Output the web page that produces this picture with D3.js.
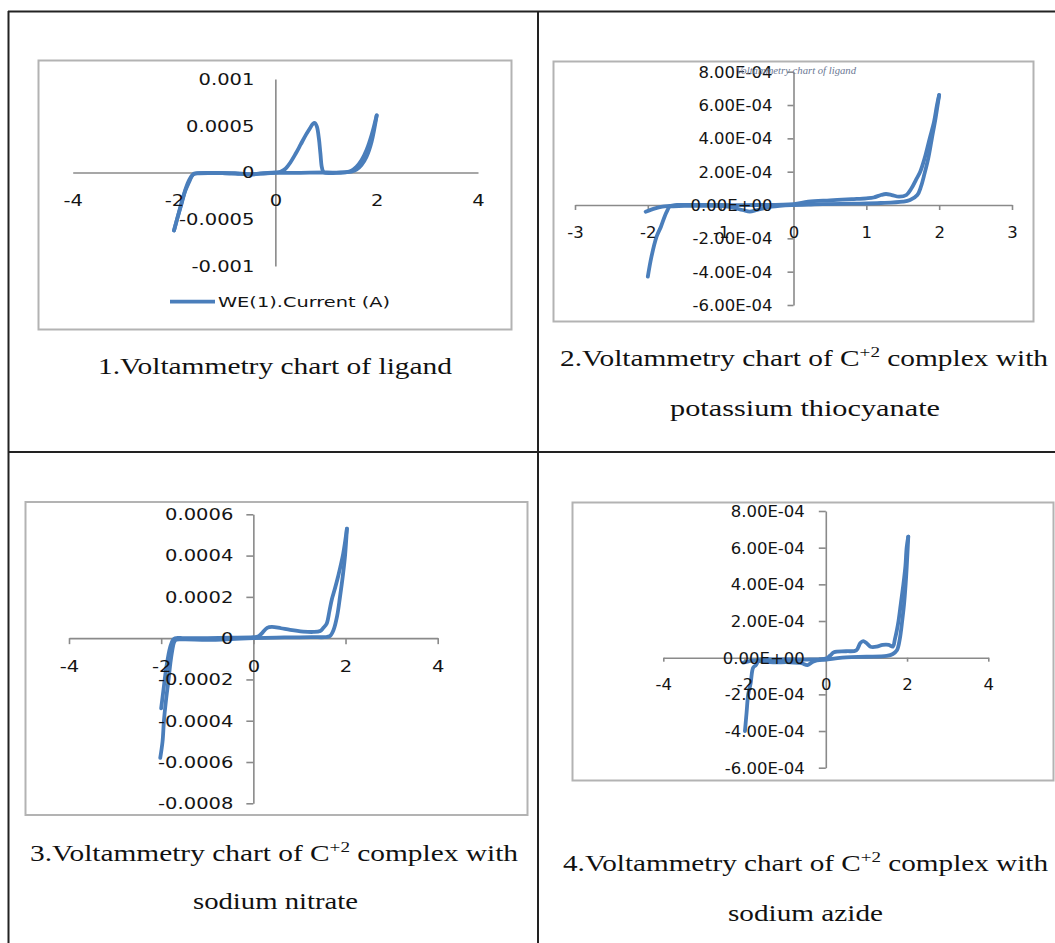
<!DOCTYPE html>
<html><head><meta charset="utf-8">
<script src="https://cdn.jsdelivr.net/npm/d3@7"></script>
<style>body{margin:0;background:#fff;} svg{display:block}</style>
</head><body>
<svg id="c" width="1055" height="943"></svg>
<script>
// ---------------- DATA ----------------
// Chart 1: ligand
const ligandFwdV = [-2.0,-1.94,-1.87,-1.78,-1.7,-1.65,-1.6,-1.5,-1.2,-0.8,-0.6,-0.45,-0.3,0,0.1,0.2,0.3,0.4,0.5,0.6,0.68,0.74,0.78,0.82,0.86,0.89,0.92,0.96,1.2,1.4,1.5,1.6,1.7,1.8,1.9,2.0];
const ligandFwdI = [-0.00062,-0.0005,-0.00037,-0.0002,-0.0001,-0.00004,-0.00001,-0.000006,-0.000005,-0.000008,-0.000015,-0.00002,-0.00001,0,0.000008,0.00004,0.00011,0.0002,0.0003,0.0004,0.00047,0.00052,0.00053,0.00049,0.00036,0.0002,0.00005,0,-0.000003,0.000005,0.00002,0.00006,0.00013,0.00024,0.0004,0.00061];
const ligandRevV = [2.0,1.9,1.8,1.7,1.6,1.5,1.3,1.0,0.5,0,-0.5,-0.7,-1.0,-1.5,-1.62,-1.7,-1.78,-1.86,-1.93,-2.0];
const ligandRevI = [0.00061,0.00033,0.00017,0.00008,0.00003,0.00001,0,0,-0.000003,-0.000005,-0.00002,-0.000015,-0.000008,-0.000008,-0.00002,-0.00008,-0.00019,-0.00034,-0.00048,-0.00062];
// Chart 2: C+2 complex with potassium thiocyanate
const kscnFwdV = [-2.03,-1.9,-1.8,-1.7,-1.6,-1.3,-1.0,-0.5,0,0.2,0.5,0.8,1.0,1.1,1.2,1.27,1.35,1.45,1.55,1.62,1.68,1.74,1.8,1.87,1.93,1.97,2.0];
const kscnFwdI = [-0.00004,-0.00002,-0.00001,-0.000005,0,0,0,0,0.000005,0.00002,0.000028,0.000035,0.00004,0.000045,0.00006,0.000066,0.00006,0.00005,0.00006,0.0001,0.00015,0.0002,0.00028,0.0004,0.0005,0.0006,0.00066];
const kscnRevV = [2.0,1.95,1.9,1.85,1.8,1.75,1.7,1.6,1.5,1.2,0.8,0.4,0.2,0,-0.3,-0.5,-0.6,-0.7,-0.9,-1.2,-1.5,-1.65,-1.7,-1.74,-1.77,-1.82,-1.88,-1.95,-2.0];
const kscnRevI = [0.00066,0.00052,0.0004,0.00028,0.00019,0.00011,0.00006,0.00003,0.00002,0.000012,0.000008,0.000005,0.000002,0,-0.00001,-0.00003,-0.00004,-0.00003,-0.00001,-0.000005,-0.000005,-0.000008,-0.00001,-0.00004,-0.00007,-0.00013,-0.00019,-0.00031,-0.00043];
// Chart 3: C+2 complex with sodium nitrate
const nitrateFwdV = [-2.0,-1.95,-1.9,-1.85,-1.8,-1.75,-1.7,-1.5,-1.0,-0.5,0,0.1,0.17,0.3,0.4,0.6,0.8,1.08,1.3,1.45,1.52,1.59,1.65,1.7,1.77,1.84,1.95,2.03];
const nitrateFwdI = [-0.00034,-0.00025,-0.00016,-0.00009,-0.00004,-0.00001,0,0,0,0.000002,0.000005,0.000008,0.00002,0.00005,0.000055,0.000048,0.00004,0.000032,0.00003,0.000035,0.00005,0.00007,0.00013,0.000185,0.00024,0.0003,0.00041,0.00053];
const nitrateRevV = [2.03,1.99,1.94,1.88,1.82,1.74,1.66,1.55,1.3,1.0,0.5,0,-0.5,-1.0,-1.5,-1.68,-1.72,-1.76,-1.8,-1.84,-1.9,-1.94,-1.97,-2.02];
const nitrateRevI = [0.00053,0.0004,0.0003,0.0002,0.00011,0.00004,0.00001,0.000005,0.000005,0.000004,0.000003,0,-0.000005,-0.000008,-0.000006,-0.000008,-0.00002,-0.00006,-0.00012,-0.0002,-0.00031,-0.0004,-0.0005,-0.00058];
// Chart 4: C+2 complex with sodium azide
const azideFwdV = [-2.03,-1.9,-1.75,-1.6,-1.2,-0.8,-0.4,0,0.1,0.2,0.5,0.75,0.85,0.92,1.0,1.1,1.25,1.4,1.55,1.65,1.7,1.75,1.79,1.85,1.91,1.96,1.99,2.03];
const azideFwdI = [-0.000027,-0.00002,-0.000015,-0.00001,-0.00001,-0.00001,-0.00001,-0.000005,0.00001,0.00003,0.000035,0.00004,0.00008,0.00009,0.00008,0.00006,0.00006,0.00007,0.00007,0.00006,0.0001,0.00015,0.0002,0.0003,0.0004,0.0005,0.0006,0.00066];
const azideRevV = [2.03,1.98,1.93,1.88,1.82,1.75,1.65,1.5,1.0,0.5,0,-0.3,-0.45,-0.6,-0.9,-1.3,-1.6,-1.66,-1.72,-1.79,-1.85,-1.91,-1.95,-1.99];
const azideRevI = [0.00066,0.00045,0.0003,0.0002,0.0001,0.00004,0.00002,0.00001,0.000005,0.000002,-0.00001,-0.00002,-0.00004,-0.00003,-0.000025,-0.000025,-0.00002,-0.00002,-0.00004,-0.000055,-0.00014,-0.0002,-0.0003,-0.0004];

// Tick values
const xTicks4 = [-4,-2,0,2,4];
const xTicks3 = [-3,-2,-1,0,1,2,3];
const yTicksLigand = [-0.001,-0.0005,0,0.0005,0.001];
const yTicksSci = [-0.0006,-0.0004,-0.0002,0,0.0002,0.0004,0.0006,0.0008];
const yTicksNitrate = [-0.0008,-0.0006,-0.0004,-0.0002,0,0.0002,0.0004,0.0006];

// Texts
const legendLabel = "WE(1).Current (A)";
const ghostTitle = "Voltammetry chart of ligand";
const captionLines = [
  ["1.Voltammetry chart of ligand"],
  ["2.Voltammetry chart of C", "+2", " complex with"],
  ["potassium thiocyanate"],
  ["3.Voltammetry chart of C", "+2", " complex with"],
  ["sodium nitrate"],
  ["4.Voltammetry chart of C", "+2", " complex with"],
  ["sodium azide"]
];

// ---------------- LAYOUT / STYLE ----------------
const BLUE = "#4a7ebb";
const svg = d3.select("#c");
const plainFmt = d => d === 0 ? "0" : String(d);
function sciFmt(v){
  if (v === 0) return "0.00E+00";
  const e = Math.floor(Math.log10(Math.abs(v)) + 1e-9);
  const m = v / Math.pow(10, e);
  return m.toFixed(2) + "E" + (e < 0 ? "-" : "+") + String(Math.abs(e)).padStart(2, "0");
}
function stretch(sel, k){
  sel.each(function(){
    const w = this.getComputedTextLength();
    this.setAttribute("textLength", w * k);
    this.setAttribute("lengthAdjust", "spacingAndGlyphs");
  });
}

// table grid
const grid = svg.append("g").attr("stroke", "#222").attr("stroke-width", 2);
grid.append("line").attr("x1", 8).attr("x2", 1055).attr("y1", 11.5).attr("y2", 11.5);
grid.append("line").attr("x1", 8.5).attr("x2", 8.5).attr("y1", 11).attr("y2", 943);
grid.append("line").attr("x1", 538).attr("x2", 538).attr("y1", 11).attr("y2", 943);
grid.append("line").attr("x1", 8).attr("x2", 1055).attr("y1", 452).attr("y2", 452);

const charts = [
  { frame:[38.5,60.5,473,269], xDomain:[-4,4], xRange:[72.7,478], yDomain:[-0.001,0.001], yRange:[266,79],
    xTicks:xTicks4, yTicks:yTicksLigand, yFmt:plainFmt, xTick:0, yTick:0, xLab:28.5, yGap:21, k:1.3,
    series:[[ligandFwdV,ligandFwdI],[ligandRevV,ligandRevI]] },
  { frame:[553.5,61.5,480,260], xDomain:[-3,3], xRange:[575,1012], yDomain:[-0.0006,0.0008], yRange:[305,71.7],
    xTicks:xTicks3, yTicks:yTicksSci, yFmt:sciFmt, xTick:5, yTick:6, xLab:28, yGap:21, k:1.1,
    series:[[kscnFwdV,kscnFwdI],[kscnRevV,kscnRevI]] },
  { frame:[25.5,502,502,313], xDomain:[-4,4], xRange:[69,437.7], yDomain:[-0.0008,0.0006], yRange:[803.3,514.3],
    xTicks:xTicks4, yTicks:yTicksNitrate, yFmt:plainFmt, xTick:6, yTick:7, xLab:28.4, yGap:20, k:1.3,
    series:[[nitrateFwdV,nitrateFwdI],[nitrateRevV,nitrateRevI]] },
  { frame:[572.5,502.5,481,278], xDomain:[-4,4], xRange:[663.3,988.3], yDomain:[-0.0006,0.0008], yRange:[767.7,511],
    xTicks:xTicks4, yTicks:yTicksSci, yFmt:sciFmt, xTick:4, yTick:7, xLab:26.7, yGap:21, k:1.1,
    series:[[azideFwdV,azideFwdI],[azideRevV,azideRevI]] }
];

charts.forEach((c, ci) => {
  const g = svg.append("g");
  g.append("rect").attr("x", c.frame[0]).attr("y", c.frame[1]).attr("width", c.frame[2]).attr("height", c.frame[3])
    .attr("fill", "#fff").attr("stroke", "#b3b3b3").attr("stroke-width", 2);
  const x = d3.scaleLinear().domain(c.xDomain).range(c.xRange);
  const y = d3.scaleLinear().domain(c.yDomain).range(c.yRange);
  const x0 = x(0), y0 = y(0);
  // axis lines + tick marks
  const xa = g.append("g").attr("transform", `translate(0,${y0})`)
    .call(d3.axisBottom(x).tickValues(c.xTicks).tickSize(c.xTick).tickSizeOuter(0));
  const ya = g.append("g").attr("transform", `translate(${x0},0)`)
    .call(d3.axisLeft(y).tickValues(c.yTicks).tickSize(c.yTick).tickSizeOuter(0));
  [xa, ya].forEach(a => {
    a.select(".domain").attr("stroke", "#8a8a8a").attr("stroke-width", 1.6);
    a.selectAll(".tick line").attr("stroke", "#8a8a8a").attr("stroke-width", 1.6);
    a.selectAll("text").remove();
  });
  // series
  const line = d3.line().x(d => x(d[0])).y(d => y(d[1])).curve(d3.curveCatmullRom.alpha(0.5));
  c.series.forEach(([vs, is]) => {
    g.append("path").datum(vs.map((v, i) => [v, is[i]])).attr("d", line)
      .attr("fill", "none").attr("stroke", BLUE).attr("stroke-width", 3.8)
      .attr("stroke-linejoin", "round").attr("stroke-linecap", "round");
  });
  // tick labels (on top)
  const xl = g.append("g").attr("transform", `translate(0,${y0})`)
    .call(d3.axisBottom(x).tickValues(c.xTicks).tickFormat(d => String(d)).tickSize(0));
  const yl = g.append("g").attr("transform", `translate(${x0},0)`)
    .call(d3.axisLeft(y).tickValues(c.yTicks).tickFormat(c.yFmt).tickSize(0));
  [xl, yl].forEach(a => {
    a.select(".domain").remove();
    a.attr("font-family", "DejaVu Sans").attr("font-size", 15);
    a.selectAll("text").attr("fill", "#141414");
  });
  xl.selectAll("text").attr("y", c.xLab).attr("dy", "0.36em");
  yl.selectAll("text").attr("x", -c.yGap).attr("dy", "0.36em");
  stretch(xl.selectAll("text"), c.k);
  stretch(yl.selectAll("text"), c.k);

  if (ci === 0) {
    // legend
    g.append("line").attr("x1", 170).attr("x2", 215).attr("y1", 301.7).attr("y2", 301.7)
      .attr("stroke", BLUE).attr("stroke-width", 3.8);
    const lt = g.append("text").attr("x", 218).attr("y", 301.7).attr("dy", "0.36em")
      .attr("font-family", "DejaVu Sans").attr("font-size", 14).attr("fill", "#141414").text(legendLabel);
    lt.attr("textLength", 172).attr("lengthAdjust", "spacingAndGlyphs");
  }
  if (ci === 1) {
    g.append("text").attr("x", 736).attr("y", 74).attr("font-family", "Liberation Serif")
      .attr("font-style", "italic").attr("font-size", 10).attr("fill", "#6b7894")
      .attr("textLength", 120).attr("lengthAdjust", "spacingAndGlyphs").text(ghostTitle);
  }
});

// captions
const captionPos = [
  {cx:275, y:374, w:354},
  {cx:804, y:366, w:488},
  {cx:805, y:416, w:270},
  {cx:274, y:861, w:488},
  {cx:275.5, y:909, w:165},
  {cx:805.5, y:871, w:485},
  {cx:805.5, y:921, w:155}
];
captionLines.forEach((parts, i) => {
  const p = captionPos[i];
  const t = svg.append("text").attr("x", p.cx).attr("y", p.y).attr("text-anchor", "middle")
    .attr("font-family", "Liberation Serif").attr("font-size", 23).attr("fill", "#111");
  parts.forEach((s, j) => {
    const ts = t.append("tspan").text(s);
    if (parts.length === 3 && j === 1) ts.attr("font-size", 15).attr("dy", -9);
    if (parts.length === 3 && j === 2) ts.attr("dy", 9);
  });
  t.attr("textLength", p.w).attr("lengthAdjust", "spacingAndGlyphs");
});
</script>
</body></html>
